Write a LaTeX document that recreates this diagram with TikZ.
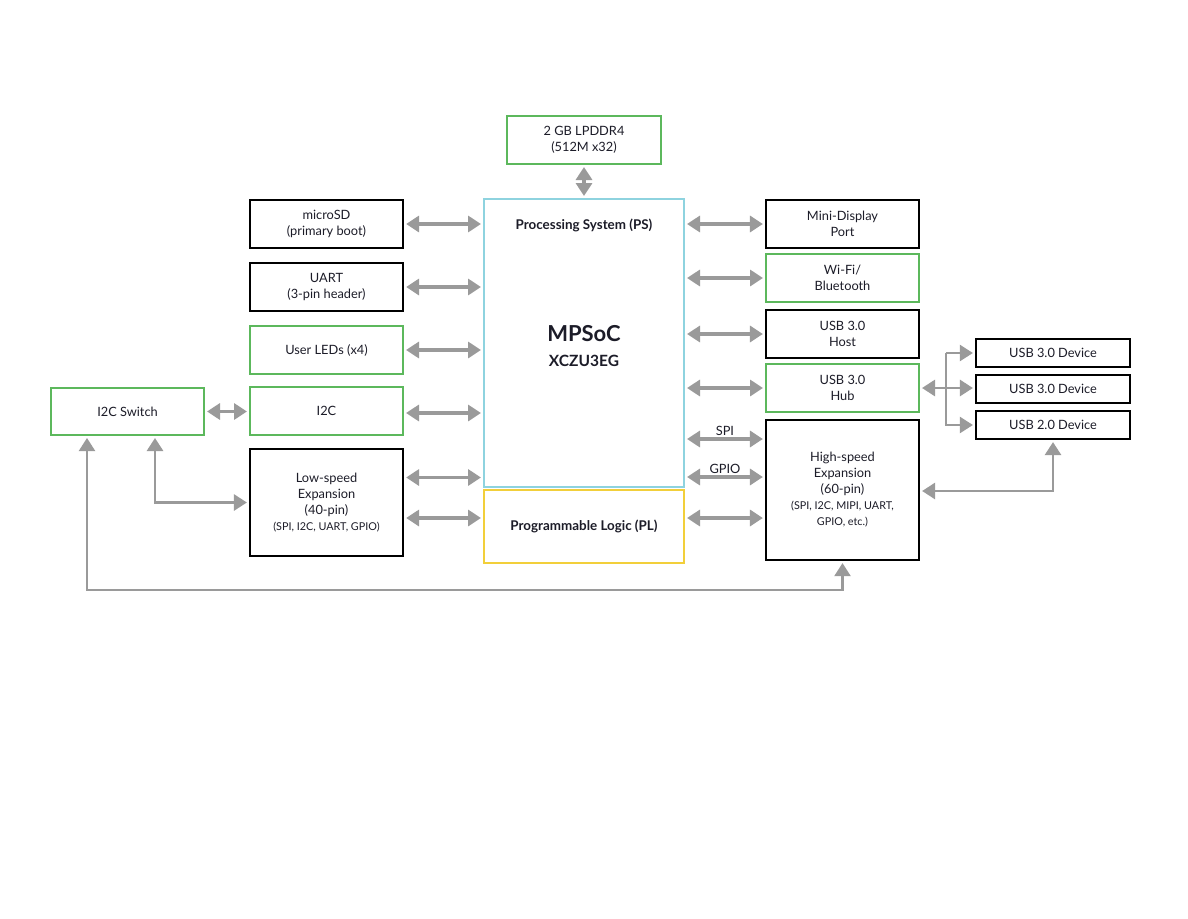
\documentclass[tikz,border=0pt]{standalone}
\usepackage{fontspec}
\setmainfont{Lato}
\usetikzlibrary{arrows.meta,calc}
\definecolor{bgreen}{HTML}{5CB85C}
\definecolor{bcyan}{HTML}{8ED3DF}
\definecolor{byellow}{HTML}{F2CF3A}
\definecolor{agray}{HTML}{9A9A9A}
\definecolor{txt}{HTML}{1C1C28}
\tikzset{
  box/.style={draw=black, line width=2.2pt, minimum width=153pt, minimum height=48pt,
    inner sep=0pt, align=center, text=txt, font=\fontsize{12.8}{16}\selectfont},
  gbox/.style={box, draw=bgreen, line width=2pt},
  dbox/.style={box, minimum width=154pt, minimum height=28pt},
  arr/.style={draw=agray, line width=3.5pt, {Triangle[length=13pt,width=16pt]}-{Triangle[length=13pt,width=16pt]},
    shorten >=2pt, shorten <=2pt},
  thinarr/.style={arr, line width=2.2pt},
  onearr/.style={draw=agray, line width=2.2pt, -{Triangle[length=13pt,width=16pt]}, shorten >=2pt},
  lbl/.style={text=txt, font=\fontsize{12.8}{16}\selectfont, inner sep=1.5pt}
}
\newcommand{\sm}[1]{{\fontsize{10.8}{16}\selectfont #1}}
\begin{document}
\begin{tikzpicture}[x=1pt,y=-1pt]
\useasboundingbox[fill=white] (0,0) rectangle (1188,918);

% central
\node[box, draw=bcyan, line width=2pt, minimum width=200pt, minimum height=288pt] (ps) at (584,343) {};
\node[lbl, font=\fontsize{13.4}{16}\selectfont\bfseries] (pst) at (584,225) {Processing System (PS)};
\node[lbl, font=\fontsize{22}{26}\selectfont\bfseries] (mp) at (584,334) {MPSoC};
\node[lbl, font=\fontsize{15.5}{18}\selectfont\bfseries] (xc) at (584,361) {XCZU3EG};
\node[box, draw=byellow, line width=2pt, minimum width=200pt, minimum height=73pt,
  font=\fontsize{13.4}{16}\selectfont\bfseries] (pl) at (584,526.5) {Programmable Logic (PL)};
\node[gbox, minimum width=154pt] (ddr) at (584,140) {2 GB LPDDR4\\(512M x32)};

% left column
\node[box] (sd) at (326.5,224) {microSD\\(primary boot)};
\node[box] (uart) at (326.5,287) {UART\\(3-pin header)};
\node[gbox] (leds) at (326.5,350) {User LEDs (x4)};
\node[gbox] (i2c) at (326.5,411) {I2C};
\node[box, minimum height=107pt] (ls) at (326.5,502.5) {Low-speed\\Expansion\\(40-pin)\\\sm{(SPI, I2C, UART, GPIO)}};
\node[gbox, minimum height=47pt] (sw) at (127.5,411.5) {I2C Switch};

% right column
\node[box] (mdp) at (842.5,224) {Mini-Display\\Port};
\node[gbox] (wifi) at (842.5,278) {Wi-Fi/\\Bluetooth};
\node[box] (host) at (842.5,334) {USB 3.0\\Host};
\node[gbox] (hub) at (842.5,388) {USB 3.0\\Hub};
\node[box, minimum height=140pt] (hs) at (842.5,490) {High-speed\\Expansion\\(60-pin)\\\sm{(SPI, I2C, MIPI, UART,}\\\sm{GPIO, etc.)}};

% USB devices
\node[dbox] (d1) at (1053,353) {USB 3.0 Device};
\node[dbox] (d2) at (1053,389) {USB 3.0 Device};
\node[dbox] (d3) at (1053,425) {USB 2.0 Device};

% arrows
\draw[arr] (ddr.south) -- (ps.north);
\draw[arr] (sd.east) -- (sd.east -| ps.west);
\draw[arr] (uart.east) -- (uart.east -| ps.west);
\draw[arr] (leds.east) -- (leds.east -| ps.west);
\draw[arr] ([yshift=-2pt]i2c.east) -- ([yshift=-2pt]i2c.east -| ps.west);
\draw[arr] ([yshift=25pt]ls.east) -- ([yshift=25pt]ls.east -| ps.west);
\draw[arr] ([yshift=-15.5pt]ls.east) -- ([yshift=-15.5pt]ls.east -| pl.west);
\draw[arr] (sw.east) -- (sw.east -| i2c.west);

\draw[arr] (mdp.west -| ps.east) -- (mdp.west);
\draw[arr] (wifi.west -| ps.east) -- (wifi.west);
\draw[arr] (host.west -| ps.east) -- (host.west);
\draw[arr] (hub.west -| ps.east) -- (hub.west);
\draw[arr] ([yshift=51pt]hs.west -| ps.east) -- node[lbl, above] (spi) {SPI} ([yshift=51pt]hs.west);
\draw[arr] ([yshift=13pt]hs.west -| ps.east) -- node[lbl, above] (gpio) {GPIO} ([yshift=13pt]hs.west);
\draw[arr] ([yshift=-28pt]hs.west -| pl.east) -- ([yshift=-28pt]hs.west);

% hub fan-out
\coordinate (jx) at (946,388);
\draw[arr, line width=2.8pt] (hub.east) -- (hub.east -| d2.west);
\draw[onearr] (jx |- d1.west) -- (d1.west);
\draw[onearr] (jx |- d1.west) -- (jx |- d3.west) -- (d3.west);

% high-speed to USB 2.0 device
\draw[arr, line width=2.8pt] ([yshift=-1pt]hs.east) -| (d3.south);

% I2C switch connections
\draw[arr, line width=2.8pt] ([xshift=27.5pt]sw.south) |- (ls.west);
\coordinate (bot) at (500,590);
\draw[thinarr] ([xshift=-40.5pt]sw.south) |- (bot) -| (hs.south);
\end{tikzpicture}
\end{document}
